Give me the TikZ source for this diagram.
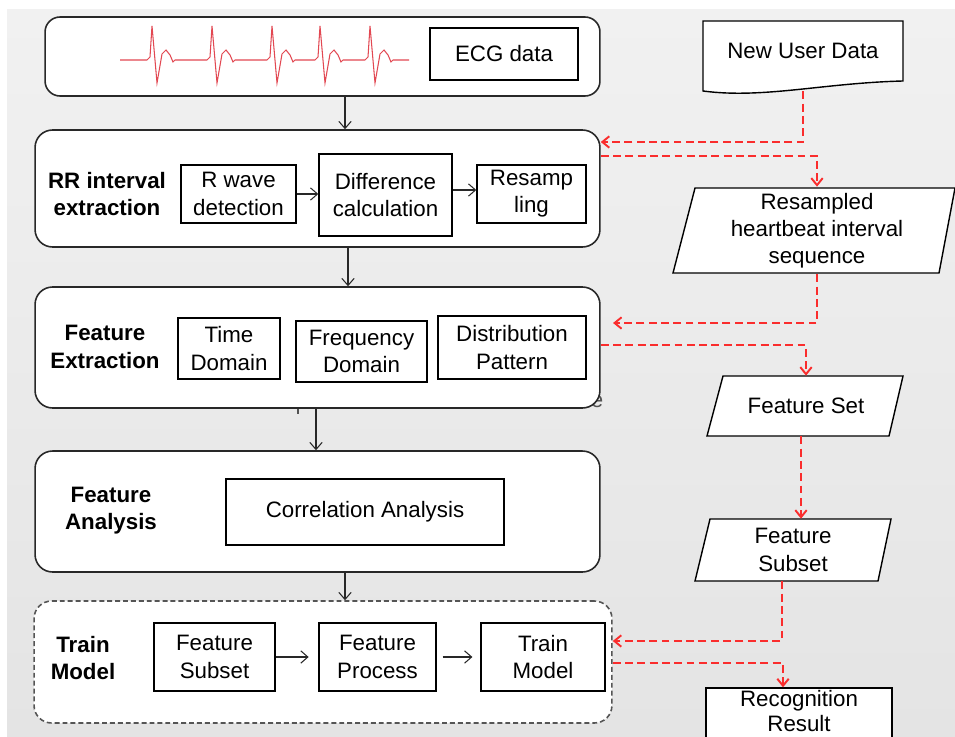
\documentclass[tikz,border=0pt]{standalone}
\usepackage{fontspec}
\setmainfont{Liberation Sans}
\usetikzlibrary{arrows.meta,calc}
\definecolor{bgtop}{RGB}{241,241,241}
\definecolor{bgbot}{RGB}{228,228,228}
\definecolor{ecgred}{RGB}{226,72,82}
\definecolor{flowred}{RGB}{250,45,45}
\definecolor{edge}{RGB}{40,40,40}
\definecolor{tmgray}{RGB}{85,85,85}

\begin{document}
\begin{tikzpicture}[x=0.02cm,y=-0.02cm,
  every node/.style={font=\fontsize{12.7}{15.5}\selectfont,align=center},
  stage/.style={draw=edge,line width=0.9pt,fill=white,rounded corners=0.35cm},
  inbox/.style={draw=black,line width=0.8pt,fill=white,inner sep=0pt},
  lbl/.style={font=\fontsize{12.7}{15.5}\selectfont\bfseries},
  slant/.style={black,fill=white,line width=0.8pt},
  arr/.style={-{Straight Barb[length=4pt,width=7pt]},draw=edge,line width=0.6pt},
  flow/.style={-{Straight Barb[length=4pt,width=6.5pt]},draw=flowred,line width=1.1pt,dash pattern=on 4.5pt off 2.5pt}]
\useasboundingbox (0,0) rectangle (955,736);
\clip (0,0) rectangle (955,736);
% background
\fill[white] (0,0) rectangle (955,736);
\shade[top color=bgtop,bottom color=bgbot] (7,10) rectangle (955,736);
% stray marks
\node[text=edge!80] (stray) at (597,402) {e};
\draw[edge!80,line width=0.6pt] (298,406) -- (298,414);
% ECG
\node[stage,rounded corners=0.3cm,minimum width=11.1cm,minimum height=1.58cm] (ecg) at (322.5,56.5) {};
\draw[ecgred,line width=0.6pt] (120,60)
  \foreach \p in {152,212,272,320,370}{
    -- (\p-5,60) -- (\p-2,57) -- (\p,26) -- (\p+5,83) -- (\p+10,54)
    -- (\p+14,50) -- (\p+18,55) -- (\p+21,62) -- (\p+23,60)}
  -- (409,60);
\node[inbox,minimum width=2.96cm,minimum height=1.04cm] (ecgdata) at (504,54) {ECG data};
% RR interval
\node[stage,minimum width=11.3cm,minimum height=2.34cm] (rr) at (317.5,188.5) {};
\node[lbl] (rrlab) at (107,194) {RR interval\\extraction};
\node[inbox,minimum width=2.3cm,minimum height=1.16cm] (rwave) at (238.5,194) {R wave\\detection};
\node[inbox,minimum width=2.66cm,minimum height=1.64cm] (diff) at (385.5,195) {Difference\\calculation};
\node[inbox,minimum width=2.18cm,minimum height=1.16cm] (resamp) at (531.5,194) {Resamp\\ling};
\draw[arr] (rwave.east) -- (rwave.east -| diff.west);
\draw[arr] (diff.east |- 0,190) -- (resamp.west |- 0,190);
% feature extraction
\node[stage,minimum width=11.3cm,minimum height=2.42cm] (fe) at (317.5,347.5) {};
\node[lbl] (felab) at (105,347) {Feature\\Extraction};
\node[inbox,minimum width=2.04cm,minimum height=1.22cm] (time) at (229,348.5) {Time\\Domain};
\node[inbox,minimum width=2.62cm,minimum height=1.22cm] (freq) at (361.5,351.5) {Frequency\\Domain};
\node[inbox,minimum width=2.96cm,minimum height=1.26cm] (dist) at (512,347.5) {Distribution\\Pattern};
% feature analysis
\node[stage,minimum width=11.3cm,minimum height=2.42cm] (fa) at (317.5,511.5) {};
\node[lbl] (falab) at (111,511) {Feature\\Analysis};
\node[inbox,minimum width=5.56cm,minimum height=1.32cm] (corr) at (365,512) {Correlation Analysis};
% train model
\node[stage,draw=tmgray,dash pattern=on 2.8pt off 1.7pt,minimum width=11.56cm,minimum height=2.44cm] (tm) at (323,662) {};
\node[lbl] (tmlab) at (83,658) {Train\\Model};
\node[inbox,minimum width=2.42cm,minimum height=1.36cm] (fsub) at (214.5,657) {Feature\\Subset};
\node[inbox,minimum width=2.34cm,minimum height=1.36cm] (fproc) at (377.5,657) {Feature\\Process};
\node[inbox,minimum width=2.48cm,minimum height=1.36cm] (tmodel) at (543,657) {Train\\Model};
\draw[arr,shorten >=5.5pt] (fsub) -- (fproc);
\draw[arr,shorten <=3.4pt,shorten >=4.5pt] (fproc) -- (tmodel);
% main flow
\draw[arr] (345,0 |- ecg.south) -- (345,0 |- rr.north);
\draw[arr] (348,0 |- rr.south) -- (348,0 |- fe.north);
\draw[arr] (316,0 |- fe.south) -- (316,0 |- fa.north);
\draw[arr] (345,0 |- fa.south) -- (345,0 |- tm.north);
% right column shapes
\filldraw[slant] (703,21) -- (903,21) -- (903,81)
  .. controls (823,83) and (763,99) .. (703,91) -- cycle;
\filldraw[slant] (673,273) -- (695,188) -- (955,188) -- (939,273) -- cycle;
\filldraw[slant] (707,436) -- (723,376) -- (903,376) -- (889,436) -- cycle;
\filldraw[slant] (695,581) -- (710,519) -- (891,519) -- (878,581) -- cycle;
\node[minimum width=4cm,minimum height=1.6cm] (nud) at (803,51) {New User Data};
\node[minimum height=1.7cm] (rs) at (817,230.5) {Resampled\\heartbeat interval\\sequence};
\node[minimum height=1.2cm] (fset) at (806,406) {Feature Set};
\node[minimum height=1.24cm] (fsubr) at (793,550) {Feature\\Subset};
\node[inbox,minimum width=3.72cm,minimum height=1.08cm] (rec) at (799,715) {};
\node[font=\fontsize{12.7}{14}\selectfont] (rectext) at (799,711) {Recognition\\Result};
% recognition flow
\draw[flow] (nud.south) |- (rr.east |- 0,142);
\draw[flow] (rr.east |- 0,156) -| (rs.north);
\draw[flow,shorten >=7pt] (rs.south) |- (fe.east |- 0,323);
\draw[flow] (fe.east |- 0,345) -| (fset.north);
\draw[flow] (801,0 |- fset.south) -- (801,0 |- fsubr.north);
\draw[flow] (fsubr.south -| 782,0) |- (tm.east |- 0,641);
\draw[flow] (tm.east |- 0,663) -| (783,0 |- rec.north);
\end{tikzpicture}
\end{document}
